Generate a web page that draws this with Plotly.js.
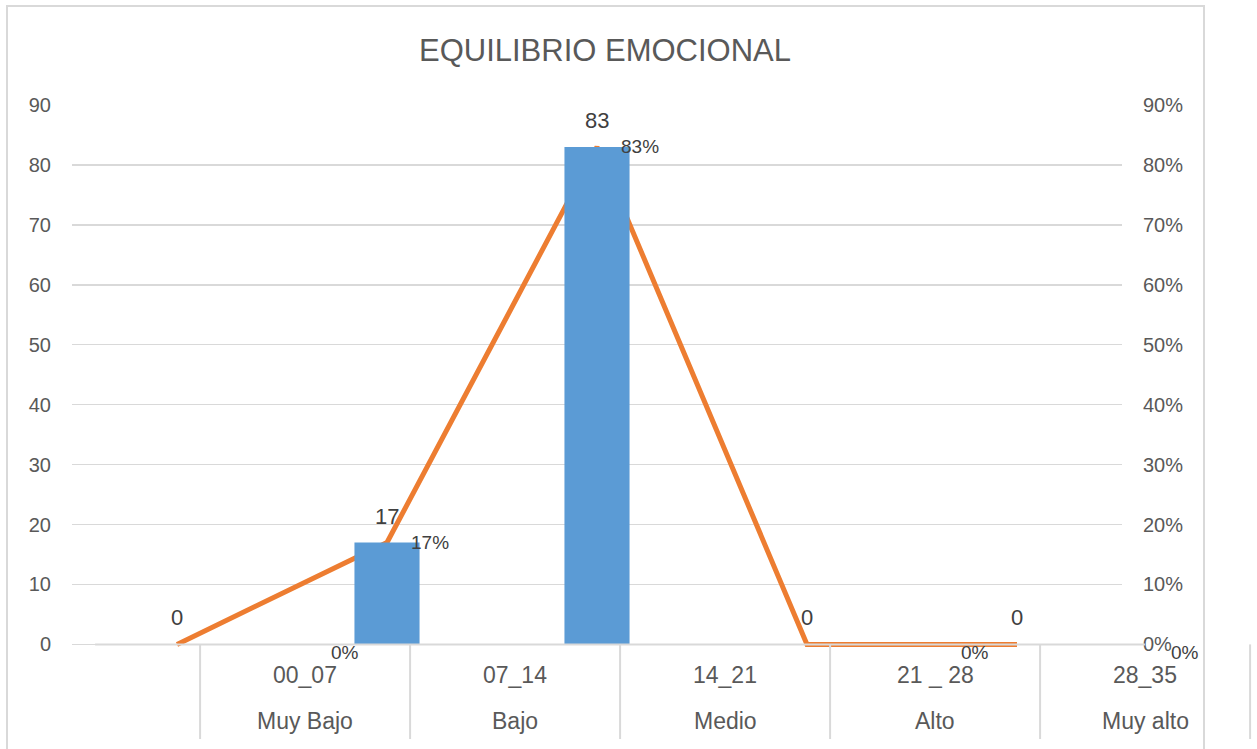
<!DOCTYPE html>
<html>
<head>
<meta charset="utf-8">
<script src="https://cdn.plot.ly/plotly-3.0.1.min.js"></script>
<style>
  html, body { margin: 0; padding: 0; background: #ffffff; }
  #chart { width: 1257px; height: 749px; }
</style>
</head>
<body>
<div id="chart"></div>
<script>
// Categories: score ranges and level names
const ranges = ['00_07', '07_14', '14_21', '21 _ 28', '28_35'];
const levels = ['Muy Bajo', 'Bajo', 'Medio', 'Alto', 'Muy alto'];
// Frequencies (bars, left axis) and percentages (line, right axis)
const counts = [0, 17, 83, 0, 0];
const shares = [0, 0.17, 0.83, 0, 0];
// Axis ticks
const countTicks = [0, 10, 20, 30, 40, 50, 60, 70, 80, 90];
const shareTicks = [0, 0.1, 0.2, 0.3, 0.4, 0.5, 0.6, 0.7, 0.8, 0.9];

const W = 1257, H = 749;
const M = { l: 72, r: 135, t: 105, b: 101 };
const PLOT_W = W - M.l - M.r;
const PLOT_H = H - M.t - M.b;
const X_RANGE = [-0.5, ranges.length - 0.5];
const Y_RANGE = [-0.6, 90];
const P_RANGE = [Y_RANGE[0] / 100, Y_RANGE[1] / 100];
const TABLE_SHIFT = 0.11;          // table columns sit slightly right of the points
const GREY = '#595959';
const LINE_GREY = '#D9D9D9';
const FONT = '"Liberation Sans", Arial, sans-serif';

const idx = counts.map((_, i) => i);
const xToPaper = v => (v - X_RANGE[0]) / (X_RANGE[1] - X_RANGE[0]);
const yToPaper = v => (v - Y_RANGE[0]) / (Y_RANGE[1] - Y_RANGE[0]);
const pxX = px => (px - M.l) / PLOT_W;
const pxY = py => (H - M.b - py) / PLOT_H;

const shareTrace = {
  type: 'scatter', mode: 'lines',
  x: idx, y: shares, yaxis: 'y',
  line: { color: '#ED7D31', width: 5 },
  hoverinfo: 'skip', showlegend: false
};
const countTrace = {
  type: 'bar',
  x: idx, y: counts, yaxis: 'y2',
  marker: { color: '#5B9BD5' },
  width: 0.31,
  hoverinfo: 'skip', showlegend: false
};

const annotations = [];
// count labels above each point
counts.forEach((c, i) => {
  annotations.push({
    xref: 'paper', yref: 'paper',
    x: xToPaper(i), y: yToPaper(c),
    xanchor: 'center', yanchor: 'bottom', yshift: 12,
    text: String(c), showarrow: false,
    font: { family: FONT, size: 22, color: '#404040' }
  });
});
// percentage labels beside each point
shares.forEach((s, i) => {
  const zero = s === 0;
  annotations.push({
    xref: 'paper', yref: 'paper',
    x: xToPaper(i), y: yToPaper(s * 100),
    xanchor: zero ? 'center' : 'right', yanchor: 'middle',
    xshift: zero ? 168 : 64, yshift: zero ? -8 : 0,
    text: Math.round(s * 100) + '%', showarrow: false,
    font: { family: FONT, size: 19, color: '#404040' }
  });
});
// data table under the axis
const rowY = [pxY(675), pxY(721)];
ranges.forEach((r, i) => {
  const cx = xToPaper(i + TABLE_SHIFT + 0.5);
  annotations.push({ xref: 'paper', yref: 'paper', x: cx, y: rowY[0],
    xanchor: 'center', yanchor: 'middle', text: r, showarrow: false,
    font: { family: FONT, size: 23, color: GREY } });
  annotations.push({ xref: 'paper', yref: 'paper', x: cx, y: rowY[1],
    xanchor: 'center', yanchor: 'middle', text: levels[i], showarrow: false,
    font: { family: FONT, size: 23, color: GREY } });
});

const shapes = [];
// chart frame
shapes.push({ type: 'rect', xref: 'paper', yref: 'paper',
  x0: pxX(7), x1: pxX(1204), y0: pxY(770), y1: pxY(6),
  line: { color: LINE_GREY, width: 2 }, fillcolor: 'rgba(0,0,0,0)', layer: 'below' });
// table grid
const tableTop = yToPaper(0);
const tableBottom = pxY(739);
shapes.push({ type: 'line', xref: 'paper', yref: 'paper',
  x0: xToPaper(TABLE_SHIFT - 0.5), x1: xToPaper(ranges.length + TABLE_SHIFT - 0.5),
  y0: tableTop, y1: tableTop, line: { color: LINE_GREY, width: 2 } });
for (let i = 0; i <= ranges.length; i++) {
  const bx = xToPaper(i + TABLE_SHIFT);
  shapes.push({ type: 'line', xref: 'paper', yref: 'paper',
    x0: bx, x1: bx, y0: tableBottom, y1: tableTop,
    line: { color: LINE_GREY, width: 2 } });
}

const layout = {
  width: W, height: H,
  margin: M,
  paper_bgcolor: '#ffffff', plot_bgcolor: 'rgba(0,0,0,0)',
  font: { family: FONT, color: GREY },
  title: {
    text: 'EQUILIBRIO EMOCIONAL',
    x: 605 / W, xref: 'container', xanchor: 'center',
    y: 1 - 50 / H, yref: 'container', yanchor: 'middle',
    font: { family: FONT, size: 31, color: GREY }
  },
  xaxis: {
    range: X_RANGE, showticklabels: false, showgrid: false,
    zeroline: false, showline: false, ticks: '', fixedrange: true
  },
  yaxis: {
    side: 'right', range: P_RANGE,
    tickvals: shareTicks, tickformat: '.0%',
    showgrid: true, gridcolor: LINE_GREY, gridwidth: 1.5,
    zeroline: false, showline: false, ticks: '',
    ticklabelstandoff: 20,
    tickfont: { family: FONT, size: 20, color: GREY }
  },
  yaxis2: {
    side: 'left', overlaying: 'y', range: Y_RANGE,
    tickvals: countTicks, showgrid: false,
    zeroline: false, showline: false, ticks: '',
    ticklabelstandoff: 20,
    tickfont: { family: FONT, size: 20, color: GREY }
  },
  bargap: 0.69,
  shapes: shapes,
  annotations: annotations,
  showlegend: false
};

Plotly.newPlot('chart', [shareTrace, countTrace], layout, { staticPlot: true, displayModeBar: false });
</script>
</body>
</html>
